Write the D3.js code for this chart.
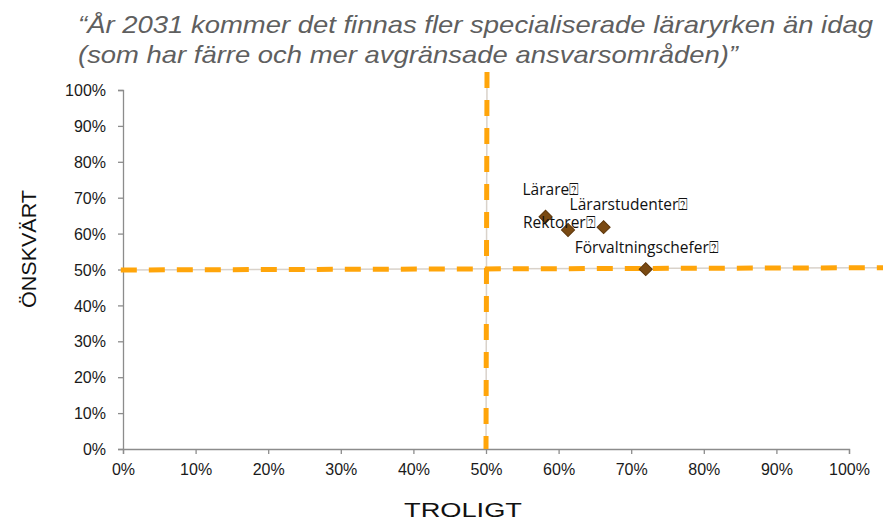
<!DOCTYPE html>
<html><head><meta charset="utf-8">
<script src="https://cdn.jsdelivr.net/npm/d3@7"></script>
<style>body{margin:0;background:#fff}svg{display:block}</style>
</head><body>
<svg id="c" width="883" height="524"></svg>
<script>
// ---- data ----
const titleLines = ["\u201CÅr 2031 kommer det finnas fler specialiserade läraryrken än idag", "(som har färre och mer avgränsade ansvarsområden)\u201D"];
const groups = ["Lärare\u2370", "Rektorer\u2370", "Lärarstudenter\u2370", "Förvaltningschefer\u2370"];
const troligt = [0.582, 0.613, 0.662, 0.720];
const onskvart = [0.647, 0.610, 0.618, 0.501];
const tickValues = [0,0.1,0.2,0.3,0.4,0.5,0.6,0.7,0.8,0.9,1.0];
const xTitle = "TROLIGT";
const yTitle = "ÖNSKVÄRT";
const threshold = 0.5;

// ---- layout ----
const labelOffsets = [[-23,-22],[-45,-2],[-34,-17],[-71,-16]];
const titleWidths = [795, 660];
const svg = d3.select("#c");
const x = d3.scaleLinear().domain([0,1]).range([123,849]);
const y = d3.scaleLinear().domain([0,1]).range([449,90]);
const pct = d3.format(".0%");

// title
svg.append("g").selectAll("text").data(titleLines).join("text")
  .attr("x",78).attr("y",(d,i)=>33+i*30)
  .attr("textLength",(d,i)=>titleWidths[i]).attr("lengthAdjust","spacingAndGlyphs")
  .style("font-family","Liberation Sans, Arial, sans-serif")
  .style("font-style","italic").style("font-size","24px").style("fill","#5f5f5f")
  .text(d=>d);

// axes
const axisColor = "#8c8c8c";
const gx = svg.append("g").attr("transform",`translate(0,${y(0)})`)
  .call(d3.axisBottom(x).tickValues(tickValues).tickFormat(pct).tickSize(5).tickSizeOuter(5).tickPadding(6));
const gy = svg.append("g").attr("transform",`translate(${x(0)},0)`)
  .call(d3.axisLeft(y).tickValues(tickValues).tickFormat(pct).tickSize(5).tickSizeOuter(5).tickPadding(12));
[gx,gy].forEach(g=>{
  g.select(".domain").attr("stroke",axisColor).attr("stroke-width",1.3);
  g.selectAll(".tick line").attr("stroke",axisColor).attr("stroke-width",1.3);
  g.selectAll(".tick text").style("font-family","Liberation Sans, Arial, sans-serif")
    .style("font-size","16px").style("fill","#1a1a1a");
});
gx.selectAll(".tick text").attr("dy","0.95em");
gy.selectAll(".tick text").attr("dy","0.35em");

// threshold lines (thin gray under dashed orange)
const hx1 = x(-0.003), hx2 = 883;
const vy1 = y(1.05), vy2 = y(0);
const lines = svg.append("g");
[["#d9d2ca",1.5,null],["#FFA50A",5,"16 12"]].forEach(([c,w,da])=>{
  lines.append("line").attr("x1",hx1).attr("x2",hx2).attr("y1",y(threshold)+0.5).attr("y2",y(threshold+0.005))
    .attr("stroke",c).attr("stroke-width",w).attr("stroke-dasharray",da);
  lines.append("line").attr("x1",x(threshold)+1).attr("x2",x(threshold)).attr("y1",vy1).attr("y2",vy2)
    .attr("stroke",c).attr("stroke-width",w).attr("stroke-dasharray",da);
});

// points
const pts = groups.map((g,i)=>({g, x:troligt[i], y:onskvart[i], off:labelOffsets[i]}));
svg.append("g").selectAll("path").data(pts).join("path")
  .attr("d", d3.symbol().type(d3.symbolSquare).size(85))
  .attr("transform", d=>`translate(${x(d.x)},${y(d.y)}) rotate(45)`)
  .attr("fill","#7a4a12").attr("stroke","#5c360a").attr("stroke-width",1);

svg.append("g").selectAll("text").data(pts).join("text")
  .attr("x", d=>x(d.x)+d.off[0]).attr("y", d=>y(d.y)+d.off[1])
  .style("font-family","Open Sans, sans-serif").style("font-size","15.5px").style("fill","#111")
  .text(d=>d.g);

// axis titles
svg.append("text").attr("x",463).attr("y",517).attr("text-anchor","middle")
  .attr("textLength",118).attr("lengthAdjust","spacingAndGlyphs")
  .style("font-family","Liberation Sans, Arial, sans-serif").style("font-size","20px").style("fill","#111")
  .text(xTitle);
svg.append("text").attr("transform","translate(36,249) rotate(-90)").attr("text-anchor","middle")
  .attr("textLength",118).attr("lengthAdjust","spacingAndGlyphs")
  .style("font-family","Liberation Sans, Arial, sans-serif").style("font-size","20px").style("fill","#111")
  .text(yTitle);
</script>
</body></html>
